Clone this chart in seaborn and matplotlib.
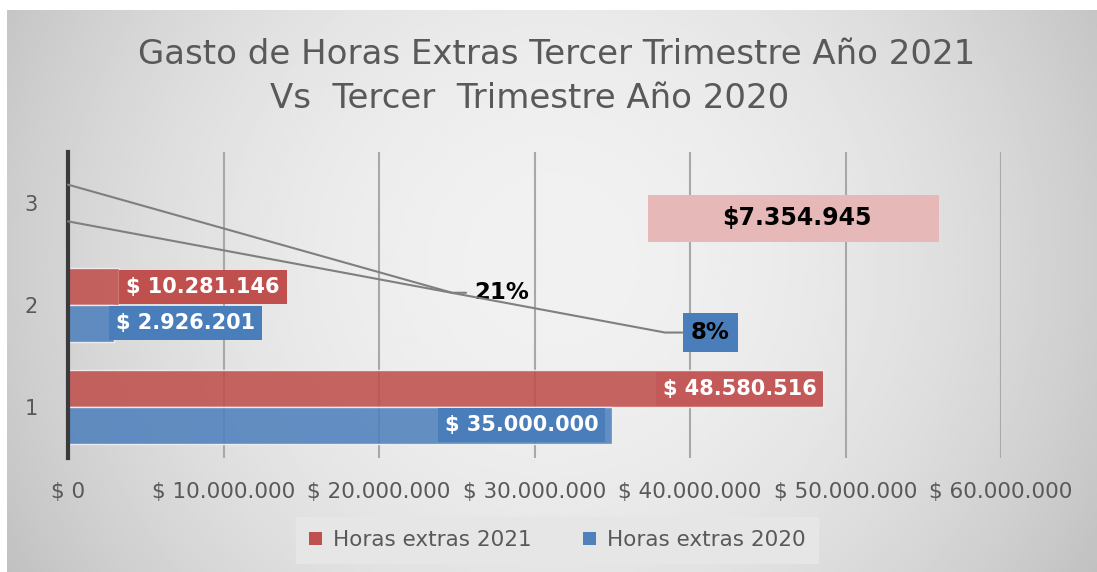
import numpy as np
import pandas as pd
import seaborn as sns
from matplotlib import pyplot as plt
from matplotlib.patches import Patch, Rectangle
from matplotlib.ticker import FuncFormatter

# Datos del grafico
categorias = ["1", "2", "3"]
series = ["Horas extras 2021", "Horas extras 2020"]
valores_2021 = [48580516, 3300000, 0.21]
valores_2020 = [35000000, 2926201, 0.08]
etiquetas_2021 = ["$ 48.580.516", "$ 10.281.146", "21%"]
etiquetas_2020 = ["$ 35.000.000", "$ 2.926.201", "8%"]
nota_diferencia = "$7.354.945"
ticks_x = [0, 10000000, 20000000, 30000000, 40000000, 50000000, 60000000]

rojo = "#C0504D"
azul = "#4F81BD"
gris_texto = "#595959"

df = pd.DataFrame({
    "categoria": categorias * 2,
    "valor": valores_2021 + valores_2020,
    "serie": [series[0]] * 3 + [series[1]] * 3,
})

sns.set_style("white")
plt.rcParams["font.family"] = ["DejaVu Sans"]

W, H = 1097, 572
fig = plt.figure(figsize=(W / 100, H / 100), dpi=100)
fig.patch.set_facecolor("white")

# Fondo degradado del area del grafico
bg = fig.add_axes([7 / W, 0, 1 - 7 / W, 1 - 10 / H])
xx, yy = np.meshgrid(np.linspace(-1, 1, 400), np.linspace(-0.8, 1.0, 200))
shade = 241 - 36 * xx ** 2 - 12 * yy ** 2
bg.imshow(shade, cmap="gray", vmin=0, vmax=255, aspect="auto",
          extent=[0, 1, 0, 1], origin="upper")
bg.set_axis_off()

ax = fig.add_axes([68 / W, 1 - 458 / H, (1001 - 68) / W, (458 - 152) / H])
ax.patch.set_alpha(0)

orden = categorias[::-1]
sns.barplot(
    data=df, x="valor", y="categoria", hue="serie", orient="h",
    order=orden, hue_order=series, palette=[rojo, azul], saturation=1,
    width=0.72, alpha=0.88, errorbar=None, legend=False,
    edgecolor="#f4f4f4", linewidth=1.0, ax=ax,
)

ax.set_xlim(0, 60000000)
ax.set_ylim(2.5, -0.5)
ax.set_xticks(ticks_x)
ax.xaxis.set_major_formatter(
    FuncFormatter(lambda v, p: "$ " + f"{int(v):,}".replace(",", "."))
)
ax.grid(axis="x", color="#a8a8a8", lw=1.5, zorder=0)
ax.set_axisbelow(True)
for s in ["top", "right", "bottom"]:
    ax.spines[s].set_visible(False)
ax.spines["left"].set_color("#3a3a3a")
ax.spines["left"].set_linewidth(3)
ax.tick_params(axis="x", length=5, width=1.5, color="#a8a8a8", pad=12,
               labelsize=15.5, labelcolor=gris_texto)
ax.tick_params(axis="y", length=0, pad=22, labelsize=15, labelcolor=gris_texto)
ax.set_xlabel("")
ax.set_ylabel("")

# Posicion de cada barra, segun la categoria en el eje
pos = {}
for serie, barras, textos in [("2021", ax.containers[0], etiquetas_2021),
                              ("2020", ax.containers[1], etiquetas_2020)]:
    for bar in barras:
        yc = bar.get_y() + bar.get_height() / 2
        cat = orden[int(round(yc))]
        pos[(serie, cat)] = (bar.get_width(), yc, textos[categorias.index(cat)])


def caja(color, pad=0.33):
    return dict(boxstyle=f"square,pad={pad}", fc=color, ec="none")


fuente = dict(fontsize=15, fontweight="bold", va="center")

w, y, t = pos[("2021", "1")]
ax.annotate(t, (w, y), xytext=(-5, 0), textcoords="offset points", ha="right",
            color="white", bbox=caja("#C4595A"), **fuente)
w, y, t = pos[("2020", "1")]
ax.annotate(t, (w, y), xytext=(-10, 0), textcoords="offset points", ha="right",
            color="white", bbox=caja("#4A7EBB"), **fuente)
w, y, t = pos[("2021", "2")]
ax.annotate(t, (w, y), xytext=(5, 0), textcoords="offset points", ha="left",
            color="white", bbox=caja(rojo), **fuente)
w, y, t = pos[("2020", "2")]
ax.annotate(t, (w, y), xytext=(2, 0), textcoords="offset points", ha="left",
            color="white", bbox=caja("#4A7EBB"), **fuente)

# Etiquetas de porcentaje con lineas guia
fuente_pct = dict(fontsize=16.5, fontweight="bold", va="center", color="black")
w, y, t = pos[("2021", "3")]
ax.plot([w, 24700000, 25600000], [y, 0.88, 0.88], color="#7f7f7f", lw=1.5,
        clip_on=False, zorder=3)
ax.text(27900000, 0.88, t, ha="center", **fuente_pct)
w, y, t = pos[("2020", "3")]
ax.plot([w, 38400000, 39500000], [y, 1.27, 1.27], color="#7f7f7f", lw=1.5,
        clip_on=False, zorder=3)
ax.text(41300000, 1.27, t, ha="center", bbox=caja("#4A7EBB", 0.35), **fuente_pct)

# Cuadro de diferencia
ax.add_patch(Rectangle((37300000, -0.08), 18700000, 0.46, fc="#E6B8B7",
                       ec="none", zorder=3))
ax.text(46850000, 0.15, nota_diferencia, ha="center", va="center",
        fontsize=17, fontweight="bold", color="black", zorder=4)

# Titulo
fig.text(557 / W, 1 - 54 / H, "Gasto de Horas Extras Tercer Trimestre Año 2021",
         ha="center", va="center", fontsize=24.5, color=gris_texto)
fig.text(530 / W, 1 - 98 / H, "Vs  Tercer  Trimestre Año 2020",
         ha="center", va="center", fontsize=24.5, color=gris_texto)

# Leyenda
handles = [Patch(fc=rojo, ec="none"), Patch(fc=azul, ec="none")]
leg = fig.legend(handles, series, loc="center", bbox_to_anchor=(557 / W, 1 - 540 / H),
                 ncol=2, fontsize=15.5, frameon=True, fancybox=False,
                 handlelength=0.6, handleheight=0.6, handletextpad=0.5,
                 columnspacing=2.4, borderpad=0.6, borderaxespad=0)
leg.get_frame().set_facecolor("#e6e6e6")
leg.get_frame().set_edgecolor("#e6e6e6")
leg.get_frame().set_alpha(1)
for txt in leg.get_texts():
    txt.set_color(gris_texto)

fig.savefig("out.png", dpi=100)
